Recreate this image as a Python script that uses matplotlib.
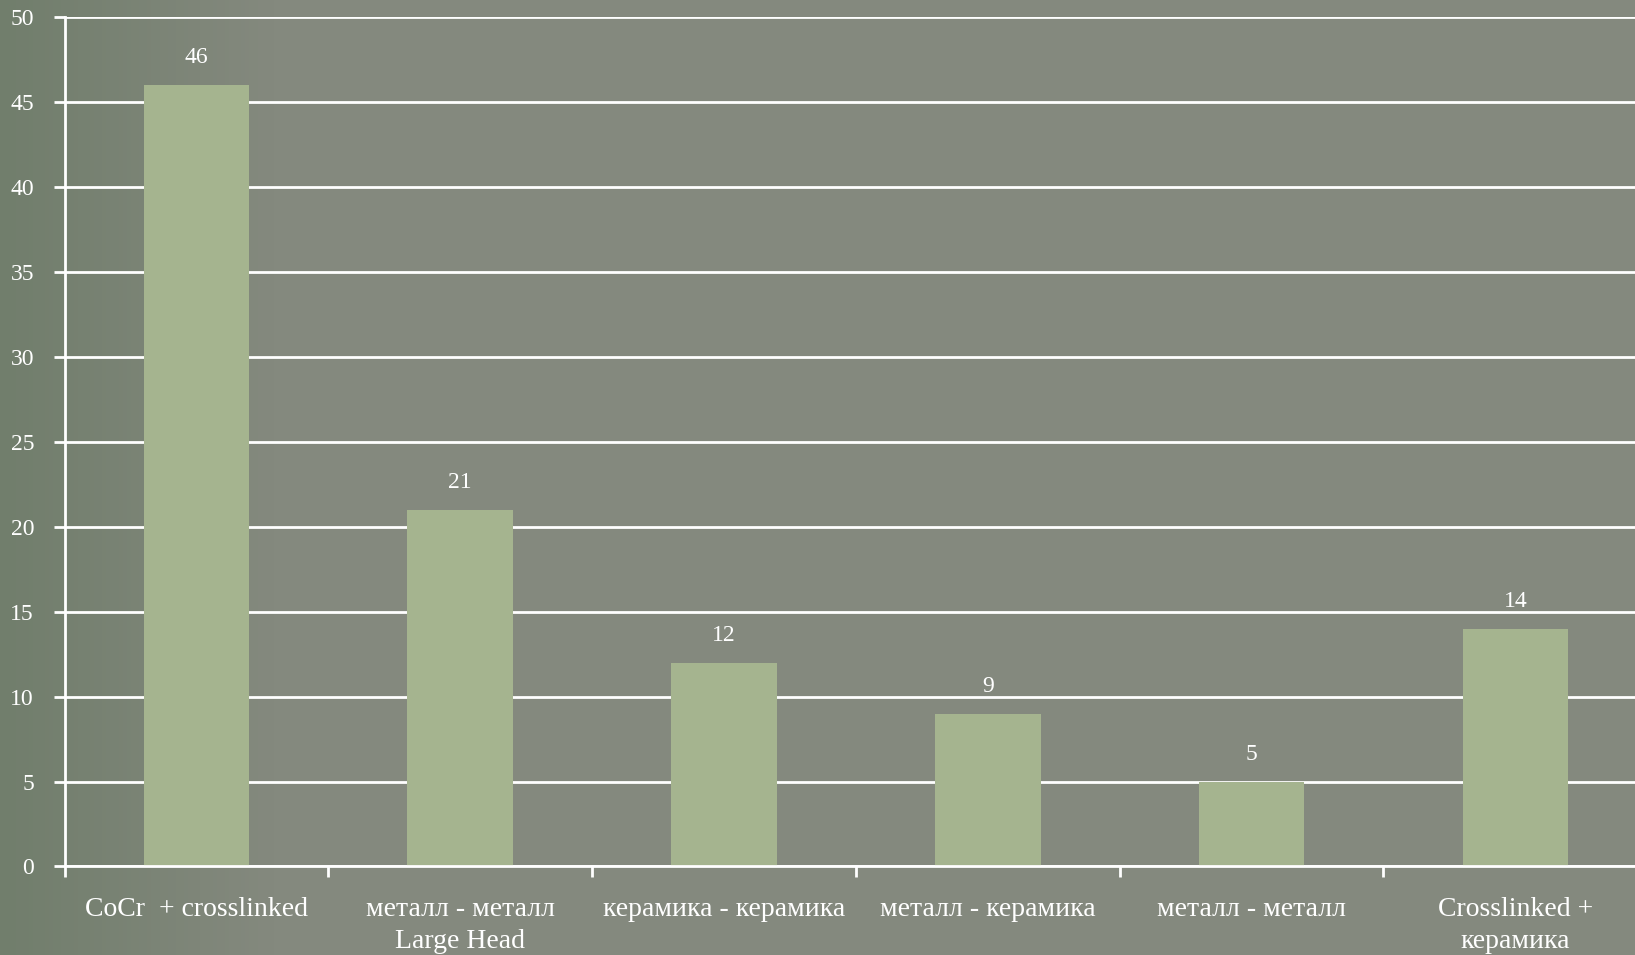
import matplotlib.pyplot as plt
import numpy as np
from matplotlib.colors import LinearSegmentedColormap

categories = ['CoCr  + crosslinked', 'металл - металл\nLarge Head', 'керамика - керамика',
              'металл - керамика', 'металл - металл', 'Crosslinked +\nкерамика']
values = [46, 21, 12, 9, 5, 14]
yticks = [0, 5, 10, 15, 20, 25, 30, 35, 40, 45, 50]

plt.rcParams['font.family'] = ['Liberation Serif', 'DejaVu Serif']

fig = plt.figure(figsize=(16.35, 9.55), dpi=100)

# background: dull green-grey board, darker toward the left edge
bg = fig.add_axes([0, 0, 1, 1], zorder=-1)
gx = np.linspace(0, 1, 400)
grad = np.clip(gx * 6, 0, 1)[None, :] * np.ones((10, 1))
cmap = LinearSegmentedColormap.from_list('bg', ['#717e6c', '#84897e'])
bg.imshow(grad, aspect='auto', cmap=cmap, extent=[0, 1, 0, 1])
bg.axis('off')

ax = fig.add_axes([0.0395, 0.0927, 0.968, 0.889])
ax.patch.set_alpha(0)

x = np.arange(len(values))
ax.bar(x, values, width=0.4, color='#a5b48f', zorder=3)
for xi, v in zip(x, values):
    ax.text(xi, v + 1.0, str(v), ha='center', va='bottom', color='white', fontsize=17, zorder=4)

ax.set_xlim(-0.5, len(values) - 0.5)
ax.set_ylim(0, 50)
ax.set_yticks(yticks)
ax.yaxis.grid(True, color='white', linewidth=2, zorder=1)

# ticks at category boundaries, labels at category centres
ax.set_xticks(np.arange(len(values) + 1) - 0.5)
ax.set_xticklabels([])
ax.set_xticks(x, minor=True)
ax.set_xticklabels(categories, minor=True, linespacing=1.35)
ax.tick_params(axis='x', which='major', direction='out', length=8, width=2, color='white')
ax.tick_params(axis='x', which='minor', length=0, pad=22, labelsize=20, labelcolor='white')
ax.tick_params(axis='y', direction='out', length=8, width=2, color='white',
               labelsize=17, labelcolor='white', pad=14)

for s in ['top', 'right']:
    ax.spines[s].set_visible(False)
for s in ['left', 'bottom']:
    ax.spines[s].set_color('white')
    ax.spines[s].set_linewidth(2)
    ax.spines[s].set_zorder(5)

fig.savefig('out.png', dpi=100)
